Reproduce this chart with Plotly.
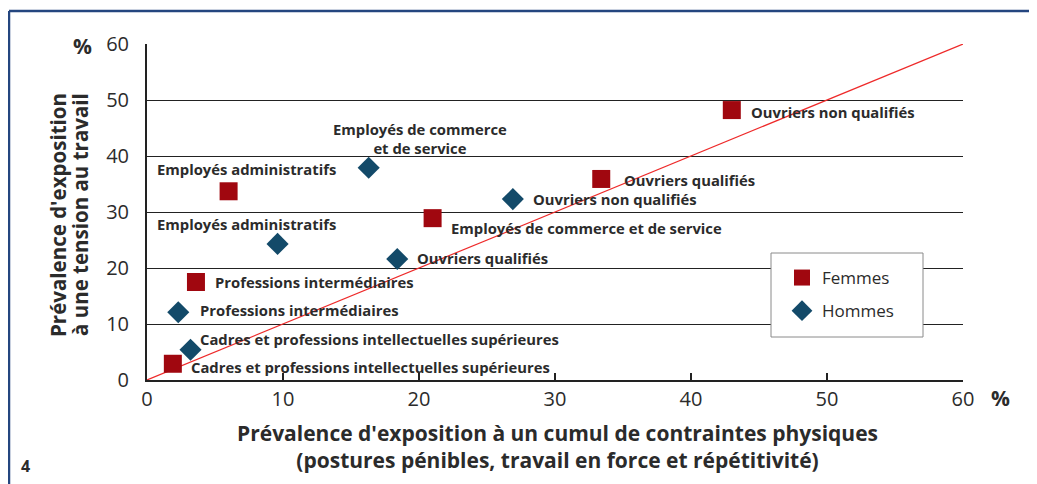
import plotly.graph_objects as go

# Data
categories = ["Cadres et professions intellectuelles supérieures",
              "Professions intermédiaires",
              "Employés administratifs",
              "Employés de commerce et de service",
              "Ouvriers qualifiés",
              "Ouvriers non qualifiés"]
femmes_x = [1.9, 3.6, 6.0, 21.0, 33.4, 43.0]
femmes_y = [2.9, 17.5, 33.7, 28.9, 35.9, 48.2]
hommes_x = [3.2, 2.3, 9.6, 18.4, 16.3, 26.9]
hommes_y = [5.4, 12.1, 24.3, 21.6, 37.9, 32.3]
tick_vals = [0, 10, 20, 30, 40, 50, 60]

# label positions (data coords) and anchors
labels = [(3.1, 2.3, "left", categories[0]),
          (4.85, 17.5, "left", categories[1]),
          (7.3, 37.7, "center", categories[2]),
          (22.2, 27.1, "left", categories[3]),
          (34.9, 35.7, "left", categories[4]),
          (44.3, 47.9, "left", categories[5]),
          (3.75, 7.3, "left", categories[0]),
          (3.75, 12.5, "left", categories[1]),
          (7.3, 27.9, "center", categories[2]),
          (19.7, 21.8, "left", categories[4]),
          (20.1, 43.1, "center", "Employés de commerce<br>et de service"),
          (28.2, 32.3, "left", categories[5])]

FONT = "Open Sans"
TXT = "#2b2b2b"

fig = go.Figure()
fig.add_trace(go.Scatter(x=[tick_vals[0], tick_vals[-1]], y=[tick_vals[0], tick_vals[-1]],
                         mode="lines", line=dict(color="#ee2a2a", width=1.2),
                         showlegend=False, hoverinfo="skip"))
fig.add_trace(go.Scatter(x=femmes_x, y=femmes_y, mode="markers", name="Femmes",
                         legendgroup="f",
                         marker=dict(symbol="square", size=18, color="#a0070f")))
fig.add_trace(go.Scatter(x=hommes_x, y=hommes_y, mode="markers", name="Hommes",
                         legendgroup="h",
                         marker=dict(symbol="diamond", size=17, color="#134a69")))

for (x, y, anc, t) in labels:
    fig.add_annotation(x=x, y=y, text="<b>" + t + "</b>", showarrow=False,
                       xanchor=anc, yanchor="middle", align="center",
                       font=dict(family=FONT, size=14.8, color=TXT))

# axis titles
fig.add_annotation(xref="paper", yref="paper", x=0.5025, y=(380 - 446.5) / 336, yanchor="middle",
                   text="<b>Prévalence d'exposition à un cumul de contraintes physiques<br>"
                        "(postures pénibles, travail en force et répétitivité)</b>",
                   showarrow=False, align="center", font=dict(family=FONT, size=21, color=TXT))
fig.add_annotation(xref="paper", yref="paper", x=(58 - 147) / 816, y=0.491, xanchor="center",
                   yanchor="middle", text="<b>Prévalence d'exposition</b>",
                   textangle=-90, showarrow=False, font=dict(family=FONT, size=20.5, color=TXT))
fig.add_annotation(xref="paper", yref="paper", x=(80 - 147) / 816, y=0.491, xanchor="center",
                   yanchor="middle", text="<b>à une tension au travail</b>",
                   textangle=-90, showarrow=False, font=dict(family=FONT, size=20.5, color=TXT))
fig.add_annotation(xref="paper", yref="paper", x=(82 - 147) / 816, y=(380 - 46) / 336,
                   xanchor="center", yanchor="middle",
                   text="<b>%</b>", showarrow=False, font=dict(family=FONT, size=21, color=TXT))
fig.add_annotation(xref="paper", yref="paper", x=(1000 - 147) / 816, y=(380 - 398) / 336,
                   xanchor="center", yanchor="middle",
                   text="<b>%</b>", showarrow=False, font=dict(family=FONT, size=21, color=TXT))
fig.add_annotation(xref="paper", yref="paper", x=(25 - 147) / 816, y=(380 - 466) / 336,
                   xanchor="center", yanchor="middle",
                   text="<b>4</b>", showarrow=False, font=dict(family=FONT, size=16, color=TXT))

# blue frame
fig.add_shape(type="line", xref="paper", yref="paper", x0=(9 - 147) / 816, x1=1.2,
              y0=(380 - 11) / 336, y1=(380 - 11) / 336,
              line=dict(color="#24467f", width=2.5))
fig.add_shape(type="line", xref="paper", yref="paper", x0=(9 - 147) / 816, x1=(9 - 147) / 816,
              y0=(380 - 11) / 336, y1=-0.4,
              line=dict(color="#24467f", width=2.5))
# legend box
fig.add_shape(type="rect", xref="paper", yref="paper", layer="above",
              x0=(771 - 147) / 816, x1=(923 - 147) / 816,
              y0=(380 - 337) / 336, y1=(380 - 253) / 336,
              fillcolor="white", line=dict(color="#8a8a8a", width=1))

fig.update_layout(
    width=1029, height=476,
    margin=dict(l=139, r=74, t=36, b=104),
    paper_bgcolor="white", plot_bgcolor="white",
    font=dict(family=FONT, color=TXT),
    showlegend=True,
    legend=dict(x=(782 - 147) / 816, y=(380 - 260) / 336, xanchor="left", yanchor="top",
                bgcolor="rgba(0,0,0,0)", borderwidth=0,
                font=dict(family=FONT, size=17, color=TXT),
                tracegroupgap=8),
    xaxis=dict(range=[0, 60], tickvals=tick_vals, showgrid=False, zeroline=False,
               showline=True, linecolor="#222", linewidth=2,
               ticks="inside", ticklen=7, tickwidth=2, tickcolor="#222",
               tickfont=dict(family=FONT, size=20, color=TXT)),
    yaxis=dict(range=[0, 60], tickvals=tick_vals, showgrid=True, gridcolor="#222", gridwidth=1.3,
               zeroline=False, showline=True, linecolor="#222", linewidth=2,
               ticks="", tickfont=dict(family=FONT, size=20, color=TXT), ticklabelstandoff=12),
)
fig.write_html("out.html")
